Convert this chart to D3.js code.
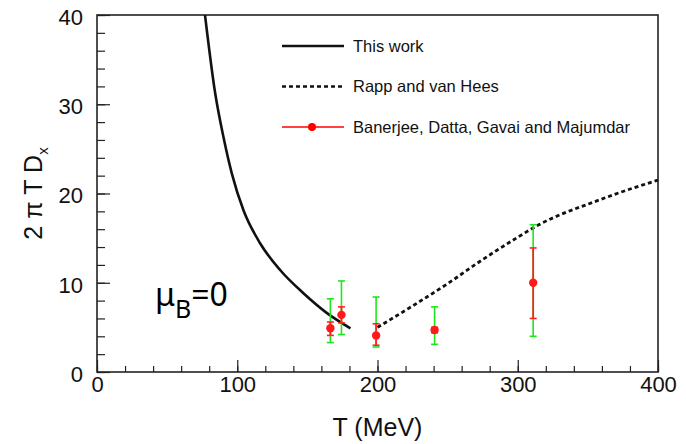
<!DOCTYPE html>
<html>
<head>
<meta charset="utf-8">
<script src="https://cdn.jsdelivr.net/npm/d3@7"></script>
<style>
  body { margin: 0; background: #fff; }
  text { font-family: "Liberation Sans", Arial, Helvetica, sans-serif; fill: #111; }
</style>
</head>
<body>
<div id="vis"></div>
<script>
// values
var thisWorkT = [77, 84.3, 90.2, 96.2, 104.5, 116.4, 130.7, 147.4, 164, 180.7];
var thisWorkD = [40, 31.2, 26.3, 22.2, 18.1, 14.4, 11.4, 8.8, 6.6, 4.9];

var rappT = [200, 225, 250, 275, 300, 315, 333, 350, 369, 400];
var rappD = [5.0, 7.4, 9.9, 12.6, 15.1, 16.5, 17.8, 18.8, 19.9, 21.5];

var latticeT = [166.4, 174.3, 199, 240.7, 311];
var latticeD = [4.9, 6.4, 4.1, 4.7, 10.0];
var statLo = [4.1, 5.5, 3.0, 4.4, 6.0];
var statHi = [5.6, 7.3, 5.4, 5.0, 13.9];
var sysLo = [3.3, 4.2, 2.8, 3.1, 4.0];
var sysHi = [8.2, 10.2, 8.4, 7.3, 16.5];

var xTicks = [0, 100, 200, 300, 400];
var yTicks = [0, 10, 20, 30, 40];

var legendLabels = ["This work", "Rapp and van Hees", "Banerjee, Datta, Gavai and Majumdar"];

(function run(){

  var margin = {top: 15, right: 28, bottom: 72, left: 97};
  var width = 686 - margin.left - margin.right;
  var height = 444 - margin.top - margin.bottom;

  var svg = d3.select("#vis")
    .append("svg")
      .attr("width", 686)
      .attr("height", 444);

  var g = svg.append("g")
    .attr("transform", "translate(" + margin.left + "," + margin.top + ")");

  var x = d3.scaleLinear().domain([0, 400]).range([0, width]);
  var y = d3.scaleLinear().domain([0, 40]).range([height, 0]);

  // minor ticks
  g.append("g")
    .attr("transform", "translate(0," + height + ")")
    .call(d3.axisBottom(x).tickValues(d3.range(0, 401, 20)).tickSize(-6).tickFormat(""))
    .call(function(s){ s.select(".domain").remove(); });
  g.append("g")
    .call(d3.axisLeft(y).tickValues(d3.range(0, 41, 2)).tickSize(-8).tickFormat(""))
    .call(function(s){ s.select(".domain").remove(); });

  // major ticks + labels
  var xAxis = g.append("g")
    .attr("class", "x axis")
    .attr("transform", "translate(0," + height + ")")
    .call(d3.axisBottom(x).tickValues(xTicks).tickSize(-12).tickPadding(8));
  xAxis.select(".domain").remove();
  xAxis.selectAll("text")
    .attr("y", 20)
    .attr("dy", 0)
    .style("font-size", "22px")
    .style("font-family", "Liberation Sans, Arial, sans-serif");

  var yAxis = g.append("g")
    .attr("class", "y axis")
    .call(d3.axisLeft(y).tickValues(yTicks).tickSize(-13));
  yAxis.select(".domain").remove();
  yAxis.selectAll("text")
    .attr("x", -14)
    .attr("dy", "0.42em")
    .style("font-size", "22px")
    .style("font-family", "Liberation Sans, Arial, sans-serif");

  g.selectAll(".tick line").attr("stroke", "#222").attr("stroke-width", 1.2);

  // frame
  g.append("rect")
    .attr("width", width)
    .attr("height", height)
    .attr("fill", "none")
    .attr("stroke", "#222")
    .attr("stroke-width", 1.6);

  g.append("clipPath").attr("id", "clip")
    .append("rect").attr("width", width).attr("height", height);

  var line = d3.line()
    .x(function(d){ return x(d[0]); })
    .y(function(d){ return y(d[1]); })
    .curve(d3.curveMonotoneX);

  g.append("path")
    .datum(d3.zip(thisWorkT, thisWorkD))
    .attr("clip-path", "url(#clip)")
    .attr("fill", "none")
    .attr("stroke", "#111")
    .attr("stroke-width", 2.6)
    .attr("d", line);

  g.append("path")
    .datum(d3.zip(rappT, rappD))
    .attr("fill", "none")
    .attr("stroke", "#111")
    .attr("stroke-width", 2.8)
    .attr("stroke-dasharray", "4,3")
    .attr("d", line);

  // lattice points
  var pts = latticeT.map(function(t, i){
    return {t: t, v: latticeD[i], lo: statLo[i], hi: statHi[i], slo: sysLo[i], shi: sysHi[i]};
  });

  var cap = 3.5;
  var pg = g.selectAll(".pt").data(pts).enter().append("g").attr("class", "pt");

  pg.append("line")
    .attr("x1", function(d){ return x(d.t); }).attr("x2", function(d){ return x(d.t); })
    .attr("y1", function(d){ return y(d.slo); }).attr("y2", function(d){ return y(d.shi); })
    .attr("stroke", "#1de61d").attr("stroke-width", 1.6);
  ["slo", "shi"].forEach(function(k){
    pg.append("line")
      .attr("x1", function(d){ return x(d.t) - cap; }).attr("x2", function(d){ return x(d.t) + cap; })
      .attr("y1", function(d){ return y(d[k]); }).attr("y2", function(d){ return y(d[k]); })
      .attr("stroke", "#1de61d").attr("stroke-width", 1.6);
  });

  pg.append("line")
    .attr("x1", function(d){ return x(d.t); }).attr("x2", function(d){ return x(d.t); })
    .attr("y1", function(d){ return y(d.lo); }).attr("y2", function(d){ return y(d.hi); })
    .attr("stroke", "#f22").attr("stroke-width", 1.8);
  ["lo", "hi"].forEach(function(k){
    pg.append("line")
      .attr("x1", function(d){ return x(d.t) - cap; }).attr("x2", function(d){ return x(d.t) + cap; })
      .attr("y1", function(d){ return y(d[k]); }).attr("y2", function(d){ return y(d[k]); })
      .attr("stroke", "#f22").attr("stroke-width", 1.6);
  });

  pg.append("circle")
    .attr("cx", function(d){ return x(d.t); })
    .attr("cy", function(d){ return y(d.v); })
    .attr("r", 4.2)
    .attr("fill", "#ff1a1a");

  // legend
  var legend = svg.append("g").attr("transform", "translate(282,46)");
  var rows = legend.selectAll(".row").data(legendLabels).enter().append("g")
    .attr("transform", function(d, i){ return "translate(0," + (i * 40.5) + ")"; });

  rows.append("line")
    .attr("x1", 0).attr("x2", 62).attr("y1", 0).attr("y2", 0)
    .attr("stroke", function(d, i){ return i == 2 ? "#f00" : "#111"; })
    .attr("stroke-width", function(d, i){ return i == 2 ? 1.4 : 2.6; })
    .attr("stroke-dasharray", function(d, i){ return i == 1 ? "4,3" : null; });

  rows.filter(function(d, i){ return i == 2; })
    .append("circle").attr("cx", 30).attr("cy", 0).attr("r", 4).attr("fill", "#f00");

  rows.append("text")
    .attr("x", 71)
    .attr("y", 5.5)
    .style("font-size", "16.5px")
    .text(function(d){ return d; });

  // axis titles
  svg.append("text")
    .attr("transform", "translate(" + (margin.left + width / 2) + ",436)")
    .attr("text-anchor", "middle")
    .style("font-size", "25px")
    .text("T (MeV)");

  var yt = svg.append("text")
    .attr("transform", "translate(42," + (margin.top + height / 2) + ") rotate(-90)")
    .attr("text-anchor", "middle")
    .style("font-size", "25px");
  yt.append("tspan").text("2 \u03c0 T D");
  yt.append("tspan").attr("dy", 6).style("font-size", "15px").text("x");

  // mu_B = 0 annotation
  var mu = svg.append("text")
    .attr("x", 155)
    .attr("y", 306)
    .style("font-family", "'Noto Sans', 'Open Sans', sans-serif")
    .style("font-size", "32px")
    .style("fill", "#000");
  mu.append("tspan").text("\u03bc");
  mu.append("tspan").attr("dy", 12).style("font-size", "25px").text("B");
  mu.append("tspan").attr("dy", -12).text("=0");

})();
</script>
</body>
</html>
